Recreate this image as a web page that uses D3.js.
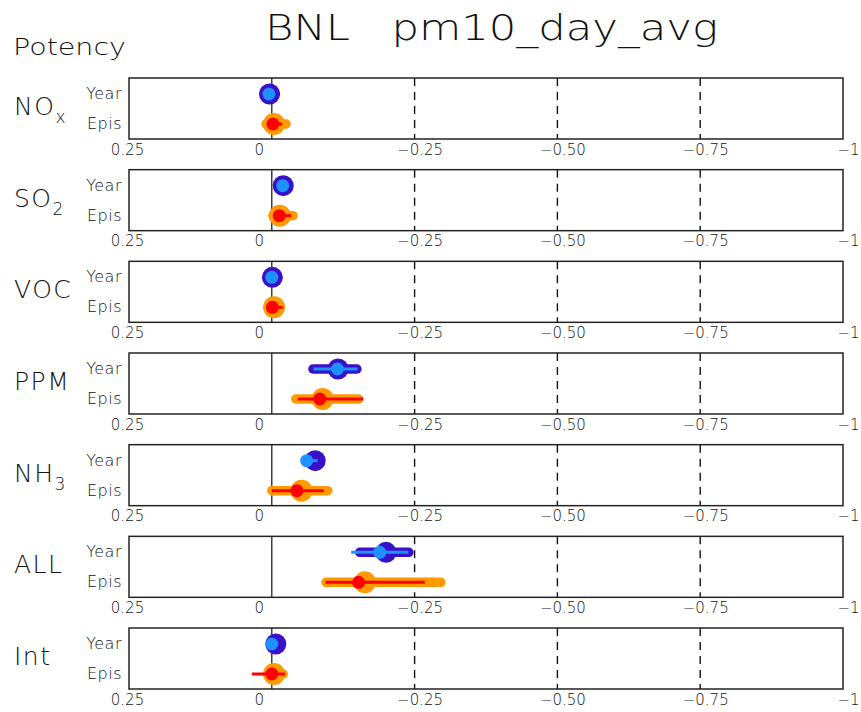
<!DOCTYPE html>
<html>
<head>
<meta charset="utf-8">
<script src="https://cdn.jsdelivr.net/npm/d3@7"></script>
<style>
  body { margin: 0; background: #fff; }
  text { font-family: "DejaVu Sans", sans-serif; fill: #111; }
</style>
</head>
<body>
<div id="chart"></div>
<script>
// Chart data (potency)
var species = ["NOx", "SO2", "VOC", "PPM", "NH3", "ALL", "Int"];
var labelBase = ["NO", "SO", "VOC", "PPM", "NH", "ALL", "Int"];
var labelSub = ["x", "2", "", "", "3", "", ""];
var periods = ["Year", "Epis"];
var tickValues = [0.25, 0, -0.25, -0.5, -0.75, -1];
var tickLabels = ["0.25", "0", "\u22120.25", "\u22120.50", "\u22120.75", "\u22121"];
var dashedTicks = [-0.25, -0.5, -0.75];

// Year: thick bar (lo, hi), thin line (lo, hi), big circle, small circle
var yearBarLo = [0.012, -0.014, 0.004, -0.072, -0.066, -0.154, 0.000];
var yearBarHi = [-0.006, -0.026, -0.006, -0.149, -0.082, -0.240, -0.012];
var yearLineLo = [0.010, -0.014, 0.003, -0.073, -0.060, -0.139, 0.002];
var yearLineHi = [-0.004, -0.024, -0.005, -0.150, -0.080, -0.239, -0.008];
var yearOuter = [0.004, -0.020, -0.001, -0.116, -0.076, -0.200, -0.007];
var yearInner = [0.005, -0.019, 0.000, -0.115, -0.061, -0.189, 0.000];

// Episodes
var episBarLo = [0.010, -0.002, 0.004, -0.042, 0.000, -0.095, 0.006];
var episBarHi = [-0.025, -0.037, -0.012, -0.152, -0.098, -0.296, -0.020];
var episLineLo = [0.007, -0.004, 0.000, -0.046, 0.000, -0.094, 0.035];
var episLineHi = [-0.018, -0.034, -0.019, -0.160, -0.091, -0.268, -0.023];
var episOuter = [-0.004, -0.014, -0.004, -0.089, -0.052, -0.163, -0.004];
var episInner = [-0.002, -0.013, -0.001, -0.084, -0.044, -0.152, 0.000];

var colors = {
  Year: { outer: "#3a10c8", inner: "#1e90ff", r: 10.5 },
  Epis: { outer: "#ff9900", inner: "#ff0000", r: 11 }
};

var svgWidth = 861;
var svgHeight = 712;

var svg = d3.select("#chart")
  .append("svg")
  .attr("width", svgWidth)
  .attr("height", svgHeight);

var xScale = d3.scaleLinear()
  .domain([0.25, -1])
  .range([129, 843]);

var panelScale = d3.scaleBand()
  .domain(species)
  .range([78, 689])
  .paddingInner(0.3346);

var ph = panelScale.bandwidth();

var rowScale = d3.scalePoint()
  .domain(periods)
  .range([16, 46]);

// Titles
svg.append("text")
  .attr("x", 265)
  .attr("y", 40)
  .attr("font-size", 35)
  .attr("font-weight", 300)
  .attr("textLength", 453)
  .attr("lengthAdjust", "spacingAndGlyphs")
  .style("white-space", "pre")
  .text("BNL   pm10_day_avg");

svg.append("text")
  .attr("x", 13)
  .attr("y", 55)
  .attr("font-size", 23)
  .attr("font-weight", 300)
  .attr("textLength", 113)
  .attr("lengthAdjust", "spacingAndGlyphs")
  .text("Potency");

species.forEach(function(sp, i) {
  var g = svg.append("g")
    .attr("transform", `translate(0, ${panelScale(sp)})`);

  // row label with subscript
  var lab = g.append("text")
    .attr("x", 14)
    .attr("y", 37)
    .attr("font-size", 25)
    .attr("font-weight", 300)
    .attr("letter-spacing", 1.5);
  lab.append("tspan").text(labelBase[i]);
  if (labelSub[i]) {
    lab.append("tspan")
      .attr("dy", 8)
      .attr("font-size", 17)
      .text(labelSub[i]);
  }

  // Year / Epis labels
  g.selectAll(".plab")
    .data(periods)
    .enter()
    .append("text")
    .attr("class", "plab")
    .attr("x", 122)
    .attr("y", d => rowScale(d) + 5)
    .attr("text-anchor", "end")
    .attr("font-size", 16)
    .attr("font-weight", 300)
    .attr("letter-spacing", 0.5)
    .text(d => d);

  // zero line
  g.append("line")
    .attr("x1", xScale(0)).attr("x2", xScale(0))
    .attr("y1", 0).attr("y2", ph)
    .attr("stroke", "#111")
    .attr("stroke-width", 1.2);

  // dashed lines
  g.selectAll(".dash")
    .data(dashedTicks)
    .enter()
    .append("line")
    .attr("x1", d => xScale(d)).attr("x2", d => xScale(d))
    .attr("y1", 0).attr("y2", ph)
    .attr("stroke", "#111")
    .attr("stroke-width", 1.4)
    .attr("stroke-dasharray", "8,6");

  var rows = [
    { p: "Year", barLo: yearBarLo[i], barHi: yearBarHi[i], lineLo: yearLineLo[i], lineHi: yearLineHi[i], outer: yearOuter[i], inner: yearInner[i] },
    { p: "Epis", barLo: episBarLo[i], barHi: episBarHi[i], lineLo: episLineLo[i], lineHi: episLineHi[i], outer: episOuter[i], inner: episInner[i] }
  ];

  rows.forEach(function(r) {
    var y = rowScale(r.p);
    var c = colors[r.p];
    g.append("line")
      .attr("x1", xScale(r.barLo)).attr("x2", xScale(r.barHi))
      .attr("y1", y).attr("y2", y)
      .attr("stroke", c.outer)
      .attr("stroke-width", 9.5)
      .attr("stroke-linecap", "round");
    g.append("circle")
      .attr("cx", xScale(r.outer))
      .attr("cy", y)
      .attr("r", c.r)
      .attr("fill", c.outer);
    g.append("line")
      .attr("x1", xScale(r.lineLo)).attr("x2", xScale(r.lineHi))
      .attr("y1", y).attr("y2", y)
      .attr("stroke", c.inner)
      .attr("stroke-width", 3);
    g.append("circle")
      .attr("cx", xScale(r.inner))
      .attr("cy", y)
      .attr("r", 6.5)
      .attr("fill", c.inner);
  });

  // frame
  g.append("rect")
    .attr("x", 129)
    .attr("y", 0)
    .attr("width", 843 - 129)
    .attr("height", ph)
    .attr("fill", "none")
    .attr("stroke", "#222")
    .attr("stroke-width", 1.5);

  // bottom tick labels
  var axis = d3.axisBottom(xScale)
    .tickValues(tickValues)
    .tickSize(0)
    .tickPadding(5)
    .tickFormat((d, k) => tickLabels[k]);

  var ax = g.append("g")
    .attr("transform", `translate(0, ${ph})`)
    .call(axis);
  ax.select(".domain").remove();
  ax.selectAll("text")
    .attr("font-size", 15)
    .attr("font-family", "DejaVu Sans, sans-serif")
    .attr("font-weight", 300)
    .attr("fill", "#111")
    .attr("dx", d => d === 0 ? -13 : (d < 0 ? 5 : -2));
});
</script>
</body>
</html>
